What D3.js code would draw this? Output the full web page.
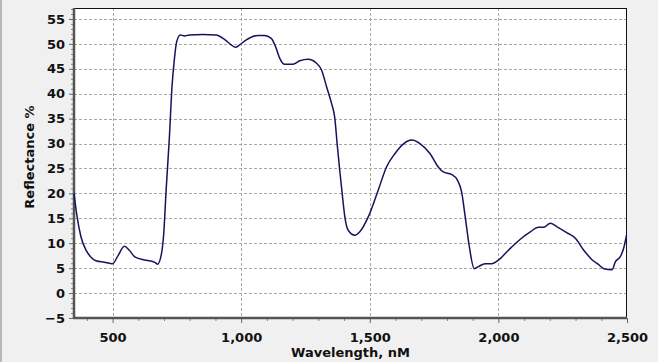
<!DOCTYPE html>
<html>
<head>
<meta charset="utf-8">
<script src="https://cdn.jsdelivr.net/npm/d3@7"></script>
<style>
  body { margin: 0; background: #f0f0f0; }
  svg { display: block; }
  text { font-family: "DejaVu Sans", Verdana, sans-serif; font-weight: bold; fill: #111; }
</style>
</head>
<body>
<svg id="chart"></svg>
<script>
// wavelength (nM)
const wavelength = [350, 360, 377, 399, 416, 435, 468, 500, 520, 546, 565, 588, 630, 666, 675, 689,
  699, 708, 721, 731, 740, 749, 763, 780, 799, 850, 903, 935, 961, 978, 994, 1020, 1065, 1090,
  1117, 1134, 1150, 1169, 1201, 1228, 1260, 1293, 1312, 1332, 1351, 1364, 1373, 1383, 1394,
  1403, 1416, 1442, 1461, 1494, 1533, 1565, 1598, 1630, 1663, 1695, 1734, 1766, 1786, 1818,
  1840, 1857, 1871, 1887, 1906, 1922, 1948, 1974, 2000, 2039, 2085, 2124, 2156, 2176, 2202,
  2228, 2267, 2299, 2332, 2364, 2390, 2410, 2442, 2455, 2474, 2487, 2498];
// reflectance %
const reflectance = [20.0, 16.0, 11.3, 8.4, 7.2, 6.5, 6.2, 5.9, 7.4, 9.4, 8.6, 7.2, 6.6, 6.1, 5.8, 7.6,
  12.0, 20.5, 31.4, 41.4, 46.8, 50.4, 51.8, 51.6, 51.8, 51.9, 51.8, 50.9, 49.8, 49.3, 49.8, 50.8, 51.7, 51.7,
  51.1, 49.4, 47.1, 45.9, 45.9, 46.6, 46.9, 46.1, 44.8, 41.4, 38.1, 35.1, 30.0, 24.7, 19.3,
  15.3, 12.6, 11.6, 12.3, 15.3, 20.7, 25.3, 28.0, 29.9, 30.7, 30.0, 28.0, 25.3, 24.3, 23.8,
  22.7, 20.3, 15.3, 9.3, 4.9, 5.3, 5.9, 5.9, 6.6, 8.6, 10.8, 12.3, 13.2, 13.2, 14.0,
  13.3, 12.1, 11.0, 8.6, 6.7, 5.7, 4.9, 4.7, 6.3, 7.3, 9.0, 11.6];

const xTicks = [500, 1000, 1500, 2000, 2500];
const yTicks = [-5, 0, 5, 10, 15, 20, 25, 30, 35, 40, 45, 50, 55];

const W = 658, H = 362;
const margin = { top: 8, right: 31, bottom: 44, left: 74 };
const width = W - margin.left - margin.right,
    height = H - margin.top - margin.bottom;

const svg = d3.select('#chart').attr('width', W).attr('height', H);

svg.append('rect').attr('width', W).attr('height', H).attr('fill', '#f0f0f0');
svg.append('line').attr('x1', 1).attr('x2', 1).attr('y1', 0).attr('y2', H)
    .attr('stroke', '#b8b8b8').attr('stroke-width', 2);

const g = svg.append('g').attr('transform', `translate(${margin.left},${margin.top})`);

const x = d3.scaleLinear().domain([350, 2500]).range([0, width]);
const y = d3.scaleLinear().domain([-5, 57.2]).range([height, 0]);

g.append('rect').attr('width', width).attr('height', height).attr('fill', '#fff');

// grid
g.append('g').selectAll('line')
    .data(yTicks.filter(d => d > -5))
    .join('line')
    .attr('x1', 0).attr('x2', width)
    .attr('y1', d => Math.round(y(d)) + 0.5).attr('y2', d => Math.round(y(d)) + 0.5)
    .attr('stroke', '#a8a8a8').attr('stroke-dasharray', '3,2');

g.append('g').selectAll('line')
    .data(xTicks.filter(d => d < 2500))
    .join('line')
    .attr('y1', 0).attr('y2', height)
    .attr('x1', d => Math.round(x(d)) + 0.5).attr('x2', d => Math.round(x(d)) + 0.5)
    .attr('stroke', '#a8a8a8').attr('stroke-dasharray', '3,2');

// minor ticks
const xMinor = d3.range(400, 2501, 100).filter(d => d % 500 !== 0);
g.append('g').attr('transform', `translate(0,${height})`)
    .call(d3.axisBottom(x).tickValues(xMinor).tickSize(3).tickFormat(''))
    .call(a => a.select('.domain').remove())
    .selectAll('line').attr('stroke', '#888');

const yMinor = d3.range(-5, 58, 1).filter(d => d % 5 !== 0);
g.append('g')
    .call(d3.axisLeft(y).tickValues(yMinor).tickSize(3).tickFormat(''))
    .call(a => a.select('.domain').remove())
    .selectAll('line').attr('stroke', '#888');

// major axes
const xAxis = g.append('g').attr('transform', `translate(0,${height})`)
    .call(d3.axisBottom(x).tickValues(xTicks).tickSize(5).tickPadding(10).tickFormat(d3.format(',')));
xAxis.select('.domain').remove();
xAxis.selectAll('line').attr('stroke', '#666');
xAxis.selectAll('text').style('font-size', '13px').style('font-family', '"DejaVu Sans", Verdana, sans-serif');

const yAxis = g.append('g')
    .call(d3.axisLeft(y).tickValues(yTicks).tickSize(5).tickPadding(4));
yAxis.select('.domain').remove();
yAxis.selectAll('line').attr('stroke', '#666');
yAxis.selectAll('text').style('font-size', '13px').style('font-family', '"DejaVu Sans", Verdana, sans-serif');

// frame
g.append('rect').attr('x', 0.5).attr('y', 0.5).attr('width', width - 1).attr('height', height - 1)
    .attr('fill', 'none').attr('stroke', '#111');
g.append('line').attr('x1', 0).attr('x2', 0).attr('y1', 0).attr('y2', height + 1)
    .attr('stroke', '#555').attr('stroke-width', 2.5);
g.append('line').attr('x1', -1).attr('x2', width).attr('y1', height).attr('y2', height)
    .attr('stroke', '#555').attr('stroke-width', 2.5);

// curve
const pts = wavelength.map((w, i) => [w, reflectance[i]]);
const line = d3.line().x(d => x(d[0])).y(d => y(d[1])).curve(d3.curveMonotoneX);
g.append('path').datum(pts)
    .attr('d', line)
    .attr('fill', 'none')
    .attr('stroke', '#14145e')
    .attr('stroke-width', 1.5);

// titles
svg.append('text')
    .attr('x', margin.left + width / 2).attr('y', 357)
    .attr('text-anchor', 'middle').style('font-size', '13px')
    .text('Wavelength, nM');

svg.append('text')
    .attr('transform', `translate(34,${margin.top + height / 2 - 6}) rotate(-90)`)
    .attr('text-anchor', 'middle').style('font-size', '13px')
    .text('Reflectance %');
</script>
</body>
</html>
